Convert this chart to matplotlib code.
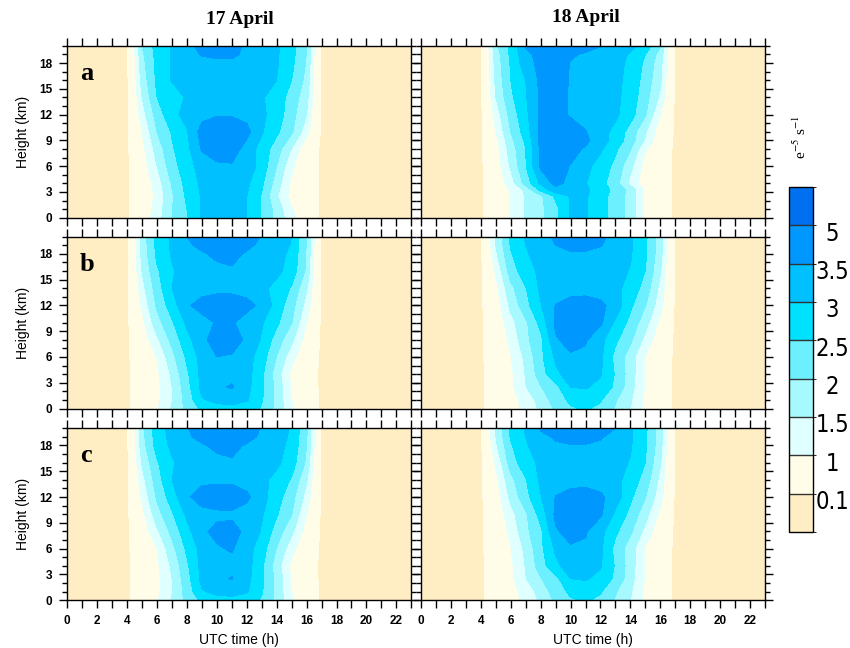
import numpy as np
import matplotlib as mpl
import matplotlib.pyplot as plt
from matplotlib.colors import ListedColormap, BoundaryNorm
from matplotlib.ticker import MultipleLocator

plt.rcParams['font.family'] = ['Liberation Sans', 'DejaVu Sans']
plt.rcParams['mathtext.fontset'] = 'stix'

# time axis (UTC hours) and the hours that carry non-zero values
hours = np.arange(24)
day_hours = np.arange(5, 17)

# contour levels and fill colours (9 bins, lowest = below 0.1)
levels = [0.1, 1, 1.5, 2, 2.5, 3, 3.5, 5]
level_labels = ['0.1', '1', '1.5', '2', '2.5', '3', '3.5', '5']
fill_colors = ['#FFEEC4', '#FFFCE8', '#E0FFFF', '#A6FAFF', '#6CF0FF',
               '#00E0FF', '#00C0FF', '#0098FF', '#0070F0']

# heights (km) of the rows
heights_17 = [0, 1, 2.5, 4, 6, 8, 10, 12, 14, 16, 18, 19, 20]
heights_18a = [0, 1, 2.5, 3.2, 4, 6, 8, 9, 10, 12, 14, 16, 18, 19, 20]
heights_18 = [0, 1, 2.5, 4, 6, 8, 10, 12, 14, 16, 18, 19, 20]

# values at hours 5..16 for each height row (hours 0-4 and 17-23 are zero)
apr17_a = [
    [0.65, 1.26, 2.00, 2.45, 3.05, 3.30, 3.30, 3.00, 2.45, 1.85, 1.15, 0.55],
    [0.62, 1.22, 1.98, 2.50, 3.05, 3.30, 3.30, 3.00, 2.45, 1.80, 1.05, 0.50],
    [0.56, 1.12, 1.93, 2.60, 3.05, 3.25, 3.30, 3.00, 2.45, 1.55, 0.80, 0.42],
    [0.60, 1.25, 2.05, 2.68, 3.10, 3.30, 3.35, 3.10, 2.60, 1.75, 0.90, 0.45],
    [0.71, 1.50, 2.29, 2.80, 3.20, 3.40, 3.45, 3.30, 2.80, 2.00, 1.12, 0.50],
    [0.84, 1.71, 2.44, 2.87, 3.55, 3.80, 3.75, 3.30, 2.80, 2.24, 1.47, 0.55],
    [1.00, 2.00, 2.55, 2.96, 3.70, 3.90, 3.90, 3.65, 3.05, 2.60, 2.08, 1.20],
    [1.28, 2.22, 2.87, 3.15, 3.35, 3.45, 3.45, 3.35, 3.10, 2.77, 2.20, 1.50],
    [1.50, 2.50, 2.78, 3.05, 3.20, 3.25, 3.30, 3.25, 3.05, 2.77, 2.30, 1.67],
    [1.70, 2.61, 3.03, 3.20, 3.25, 3.30, 3.30, 3.25, 3.20, 3.00, 2.50, 1.85],
    [1.83, 2.64, 3.05, 3.20, 3.30, 3.30, 3.40, 3.30, 3.20, 3.05, 2.62, 1.95],
    [1.90, 2.67, 3.05, 3.25, 3.55, 3.70, 3.60, 3.40, 3.22, 3.06, 2.66, 1.98],
    [2.02, 2.70, 3.03, 3.30, 3.70, 4.00, 3.80, 3.35, 3.25, 3.08, 2.70, 2.00],
]
apr17_b = [
    [0.50, 0.95, 1.55, 2.15, 2.60, 2.80, 2.85, 2.75, 2.45, 1.85, 1.10, 0.48],
    [0.47, 0.88, 1.48, 2.20, 2.95, 3.15, 3.20, 3.05, 2.55, 1.85, 1.00, 0.45],
    [0.45, 0.85, 1.50, 2.30, 3.15, 3.40, 3.55, 3.15, 2.60, 1.85, 0.95, 0.42],
    [0.48, 0.90, 1.59, 2.41, 3.15, 3.30, 3.35, 3.20, 2.60, 1.75, 0.85, 0.38],
    [0.53, 1.01, 1.84, 2.60, 3.18, 3.50, 3.45, 3.20, 2.75, 1.98, 1.20, 0.50],
    [0.66, 1.41, 2.15, 2.84, 3.39, 3.70, 3.75, 3.40, 2.95, 2.27, 1.62, 0.75],
    [0.84, 1.81, 2.44, 3.10, 3.30, 3.55, 3.55, 3.30, 3.05, 2.60, 2.02, 1.00],
    [1.10, 2.08, 2.76, 3.43, 3.70, 3.80, 3.80, 3.65, 3.38, 2.80, 2.20, 1.30],
    [1.32, 2.26, 3.00, 3.20, 3.30, 3.35, 3.35, 3.30, 3.12, 2.85, 2.45, 1.55],
    [1.52, 2.43, 2.95, 3.20, 3.30, 3.38, 3.45, 3.35, 3.25, 3.12, 2.80, 1.90],
    [1.65, 2.62, 3.05, 3.30, 3.45, 3.60, 3.62, 3.45, 3.30, 3.15, 2.90, 1.95],
    [1.68, 2.64, 3.07, 3.42, 3.62, 3.75, 3.75, 3.60, 3.40, 3.22, 2.97, 1.97],
    [1.70, 2.66, 3.09, 3.50, 3.75, 3.90, 3.90, 3.75, 3.47, 3.25, 3.00, 2.00],
]
apr17_c = [
    [0.50, 0.95, 1.55, 2.15, 2.60, 2.80, 2.85, 2.75, 2.45, 1.85, 1.10, 0.48],
    [0.47, 0.88, 1.48, 2.20, 2.95, 3.15, 3.20, 3.05, 2.55, 1.85, 1.00, 0.45],
    [0.45, 0.85, 1.50, 2.30, 3.15, 3.40, 3.53, 3.15, 2.60, 1.85, 0.95, 0.42],
    [0.48, 0.90, 1.59, 2.41, 3.15, 3.30, 3.35, 3.20, 2.60, 1.75, 0.85, 0.38],
    [0.53, 1.01, 1.84, 2.60, 3.18, 3.45, 3.55, 3.20, 2.75, 1.98, 1.20, 0.50],
    [0.66, 1.41, 2.15, 2.84, 3.42, 3.62, 3.65, 3.40, 2.95, 2.27, 1.62, 0.75],
    [0.84, 1.80, 2.44, 3.10, 3.35, 3.40, 3.42, 3.30, 3.05, 2.55, 2.02, 1.00],
    [1.10, 2.08, 2.76, 3.43, 3.70, 3.80, 3.80, 3.60, 3.20, 2.70, 2.20, 1.30],
    [1.32, 2.26, 3.00, 3.20, 3.40, 3.40, 3.40, 3.30, 3.12, 2.85, 2.45, 1.55],
    [1.55, 2.45, 2.95, 3.20, 3.30, 3.38, 3.45, 3.35, 3.25, 3.10, 2.75, 1.90],
    [1.78, 2.70, 3.10, 3.30, 3.45, 3.60, 3.62, 3.45, 3.30, 3.15, 2.88, 2.00],
    [1.83, 2.75, 3.15, 3.42, 3.65, 3.78, 3.78, 3.65, 3.42, 3.20, 2.92, 2.05],
    [1.87, 2.78, 3.17, 3.47, 3.75, 3.90, 3.90, 3.75, 3.47, 3.22, 2.95, 2.10],
]
apr18_a = [
    [0.54, 1.03, 1.55, 1.88, 2.35, 3.03, 3.05, 2.70, 2.28, 1.80, 0.88, 0.40],
    [0.54, 1.03, 1.55, 1.88, 2.35, 3.03, 3.05, 2.70, 2.28, 1.80, 0.88, 0.40],
    [0.54, 1.03, 1.55, 1.90, 2.60, 3.05, 3.05, 2.70, 2.28, 1.80, 0.88, 0.40],
    [0.56, 1.05, 1.60, 2.60, 3.30, 3.25, 3.10, 2.75, 2.35, 1.85, 0.92, 0.40],
    [0.60, 1.26, 2.21, 3.10, 3.65, 3.35, 3.02, 2.67, 2.22, 1.35, 0.70, 0.38],
    [0.68, 1.57, 2.46, 3.60, 3.70, 3.48, 3.15, 2.80, 2.36, 1.65, 0.75, 0.38],
    [0.77, 1.74, 2.50, 3.60, 3.75, 3.65, 3.45, 3.07, 2.60, 2.03, 1.05, 0.45],
    [0.86, 1.86, 2.60, 3.65, 3.80, 3.75, 3.60, 3.25, 2.80, 2.25, 1.45, 0.60],
    [1.00, 2.00, 2.75, 3.60, 3.80, 3.75, 3.52, 3.20, 2.85, 2.30, 1.55, 0.70],
    [1.20, 2.19, 2.88, 3.58, 3.70, 3.45, 3.35, 3.25, 3.10, 2.70, 2.05, 1.00],
    [1.50, 2.40, 2.95, 3.60, 3.70, 3.45, 3.35, 3.25, 3.12, 2.78, 2.20, 1.40],
    [1.62, 2.50, 3.00, 3.62, 3.72, 3.46, 3.35, 3.25, 3.13, 2.85, 2.30, 1.60],
    [1.70, 2.55, 3.30, 3.65, 3.75, 3.48, 3.35, 3.28, 3.15, 2.90, 2.40, 1.70],
    [1.75, 2.60, 3.35, 3.70, 3.75, 3.55, 3.45, 3.35, 3.20, 2.95, 2.50, 1.80],
    [1.90, 2.60, 3.55, 3.75, 3.80, 3.75, 3.65, 3.52, 3.35, 3.15, 2.80, 2.05],
]
apr18_b = [
    [0.40, 0.78, 1.15, 1.60, 2.10, 2.45, 2.55, 2.40, 1.95, 1.50, 0.90, 0.45],
    [0.41, 0.80, 1.21, 1.69, 2.25, 2.60, 2.70, 2.55, 2.05, 1.56, 0.90, 0.45],
    [0.43, 0.87, 1.48, 1.97, 2.35, 3.00, 3.05, 2.85, 2.40, 1.70, 0.95, 0.45],
    [0.44, 0.90, 1.53, 2.26, 2.90, 3.20, 3.25, 3.05, 2.45, 1.75, 0.95, 0.45],
    [0.49, 0.98, 1.62, 2.38, 3.08, 3.45, 3.40, 3.10, 2.35, 1.75, 0.95, 0.45],
    [0.54, 1.13, 1.88, 2.37, 3.45, 3.65, 3.55, 3.15, 2.60, 2.10, 1.35, 0.60],
    [0.61, 1.33, 1.90, 2.67, 3.60, 3.75, 3.75, 3.60, 2.90, 2.36, 1.70, 0.85],
    [0.71, 1.63, 2.33, 2.97, 3.52, 3.70, 3.75, 3.62, 3.30, 2.60, 2.02, 1.20],
    [0.85, 1.86, 2.47, 3.10, 3.25, 3.30, 3.30, 3.25, 3.15, 2.80, 2.30, 1.35],
    [1.08, 2.24, 2.80, 3.10, 3.25, 3.30, 3.30, 3.25, 3.15, 2.97, 2.50, 1.55],
    [1.40, 2.45, 2.95, 3.20, 3.40, 3.45, 3.45, 3.40, 3.30, 3.05, 2.57, 1.70],
    [1.50, 2.55, 3.00, 3.25, 3.50, 3.62, 3.62, 3.52, 3.32, 3.06, 2.58, 1.72],
    [1.57, 2.63, 3.05, 3.30, 3.60, 3.75, 3.75, 3.60, 3.35, 3.07, 2.60, 1.75],
]
apr18_c = [
    [0.40, 0.78, 1.15, 1.60, 2.10, 2.45, 2.55, 2.40, 1.95, 1.50, 0.90, 0.45],
    [0.41, 0.80, 1.21, 1.69, 2.25, 2.60, 2.70, 2.55, 2.05, 1.56, 0.90, 0.45],
    [0.43, 0.87, 1.48, 1.97, 2.35, 3.00, 3.05, 2.85, 2.40, 1.70, 0.95, 0.45],
    [0.44, 0.90, 1.53, 2.26, 2.90, 3.20, 3.25, 3.05, 2.45, 1.75, 0.95, 0.45],
    [0.49, 0.98, 1.62, 2.38, 3.08, 3.45, 3.42, 3.10, 2.35, 1.75, 0.95, 0.45],
    [0.54, 1.13, 1.88, 2.40, 3.45, 3.65, 3.55, 3.15, 2.60, 2.10, 1.35, 0.60],
    [0.61, 1.33, 1.92, 2.70, 3.60, 3.75, 3.75, 3.58, 2.90, 2.36, 1.70, 0.85],
    [0.71, 1.63, 2.33, 2.97, 3.52, 3.70, 3.75, 3.60, 3.25, 2.60, 2.02, 1.20],
    [0.85, 1.86, 2.47, 3.10, 3.25, 3.30, 3.30, 3.25, 3.15, 2.80, 2.30, 1.35],
    [1.08, 2.24, 2.80, 3.10, 3.25, 3.30, 3.30, 3.25, 3.15, 2.97, 2.50, 1.55],
    [1.40, 2.45, 2.95, 3.25, 3.45, 3.48, 3.48, 3.42, 3.30, 3.05, 2.57, 1.70],
    [1.50, 2.55, 3.00, 3.40, 3.55, 3.65, 3.65, 3.55, 3.35, 3.06, 2.58, 1.72],
    [1.57, 2.63, 3.05, 3.55, 3.65, 3.78, 3.78, 3.65, 3.50, 3.07, 2.60, 1.75],
]


def full_field(rows):
    rows = np.array(rows)
    field = np.zeros((rows.shape[0], hours.size))
    field[:, day_hours[0]:day_hours[-1] + 1] = rows
    return field


panels = [
    (heights_17, apr17_a, 'a', 0, 0),
    (heights_18a, apr18_a, None, 0, 1),
    (heights_17, apr17_b, 'b', 1, 0),
    (heights_18, apr18_b, None, 1, 1),
    (heights_17, apr17_c, 'c', 2, 0),
    (heights_18, apr18_c, None, 2, 1),
]

W, H = 850, 648
col_left = [67.3, 421.0]
col_width = 344.0
row_top = [45.9, 236.7, 428.3]
row_height = 171.8

fig = plt.figure(figsize=(8.5, 6.48), dpi=100)
bounds = [-1] + levels + [10]

for heights, rows, letter, r, c in panels:
    ax = fig.add_axes([col_left[c] / W, 1 - (row_top[r] + row_height) / H,
                       col_width / W, row_height / H])
    ax.contourf(hours, heights, full_field(rows), levels=bounds, colors=fill_colors)
    ax.set_xlim(0, 23)
    ax.set_ylim(0, 20)
    ax.xaxis.set_major_locator(MultipleLocator(2))
    ax.xaxis.set_minor_locator(MultipleLocator(1))
    ax.yaxis.set_major_locator(MultipleLocator(3))
    ax.yaxis.set_minor_locator(MultipleLocator(1))
    ax.tick_params(axis='x', which='both', direction='out', length=5.5, width=1,
                   top=True, bottom=True, labelsize=8.5, pad=5)
    ax.tick_params(axis='y', which='major', direction='out', length=6, width=1,
                   left=True, right=True, labelsize=8.5, pad=5)
    ax.tick_params(axis='y', which='minor', direction='out', length=3.5, width=1,
                   left=True, right=True)
    for lab in ax.get_xticklabels() + ax.get_yticklabels():
        lab.set_fontweight('bold')
    for sp in ax.spines.values():
        sp.set_linewidth(1.0)
    if c == 1:
        ax.tick_params(axis='y', labelleft=False)
    if r < 2:
        ax.tick_params(axis='x', labelbottom=False)
    else:
        fig.text((col_left[c] + col_width / 2) / W, 1 - 640 / H, 'UTC time (h)',
                 ha='center', va='center', fontsize=10)
    if c == 0:
        fig.text(23 / W, 1 - (row_top[r] + row_height / 2) / H, 'Height (km)',
                 rotation=90, ha='center', va='center', fontsize=10)
    if letter:
        ax.text(0.037, 0.84, letter, transform=ax.transAxes, fontsize=19,
                fontweight='bold', family='Liberation Serif', va='center')

fig.text(239.5 / W, 1 - 20 / H, '17 April', ha='center', va='center',
         fontsize=14, fontweight='bold', family='Liberation Serif')
fig.text(586 / W, 1 - 17.5 / H, '18 April', ha='center', va='center',
         fontsize=14, fontweight='bold', family='Liberation Serif')

# label bar
cax = fig.add_axes([789 / W, 1 - 532 / H, 24 / W, 345 / H])
cmap = ListedColormap(fill_colors)
norm = BoundaryNorm(np.arange(10), 9)
cb = fig.colorbar(mpl.cm.ScalarMappable(norm=norm, cmap=cmap), cax=cax,
                  ticks=np.arange(1, 9) - 0.15, drawedges=True)
cb.set_ticklabels(level_labels)
cb.outline.set_linewidth(1.0)
cb.dividers.set_color('#333333')
cb.dividers.set_linewidth(1.0)
cax.tick_params(length=0, labelsize=17, pad=14)
for lab in cax.get_yticklabels():
    lab.set_ha('center')
    lab.set_family('DejaVu Sans')
    lab.set_fontstretch('condensed')

fig.text(800 / W, 1 - 137 / H, r'e$^{-5}$ s$^{-1}$', rotation=90, ha='center',
         va='center', fontsize=11, family='Liberation Serif')

fig.savefig('out.png', dpi=100)
